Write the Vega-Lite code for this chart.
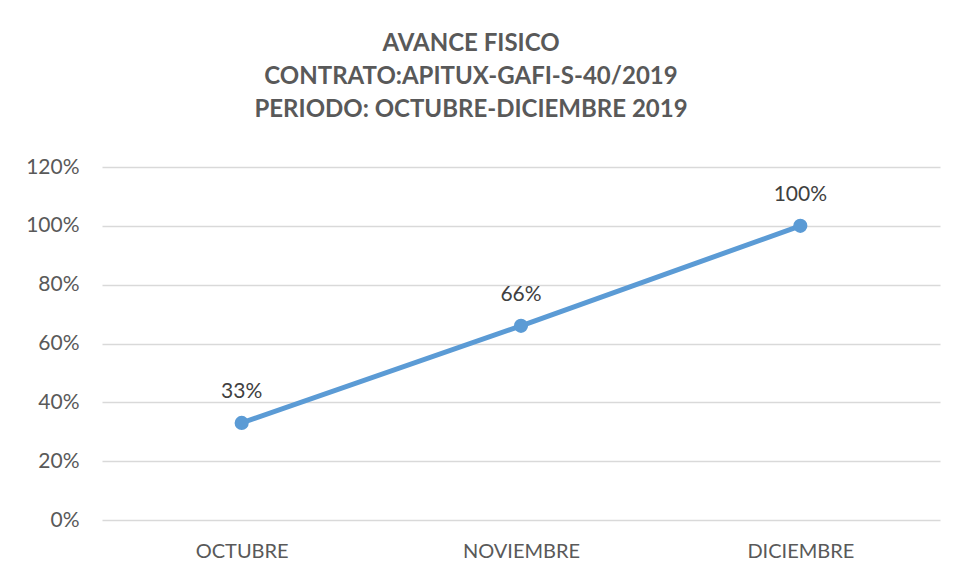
{
  "$schema": "https://vega.github.io/schema/vega-lite/v6.json",
  "autosize": "none",
  "width": 838,
  "height": 353,
  "padding": {"left": 102, "top": 167, "right": 18, "bottom": 61},
  "background": "white",
  "config": {
    "font": "Lato",
    "view": {"stroke": null},
    "axis": {"labelFont": "Lato", "labelColor": "#595959", "domain": false, "ticks": false}
  },
  "title": {
    "text": ["AVANCE FISICO", "CONTRATO:APITUX-GAFI-S-40/2019", "PERIODO: OCTUBRE-DICIEMBRE 2019"],
    "font": "Lato",
    "fontSize": 24,
    "fontWeight": "bold",
    "color": "#595959",
    "anchor": "middle",
    "frame": "group",
    "dx": -50,
    "lineHeight": 33,
    "offset": 34
  },
  "data": {
    "values": [
      {"mes": "OCTUBRE", "avance": 0.33},
      {"mes": "NOVIEMBRE", "avance": 0.66},
      {"mes": "DICIEMBRE", "avance": 1.0}
    ]
  },
  "encoding": {
    "x": {
      "field": "mes", "type": "nominal", "sort": null, "title": null,
      "scale": {"paddingInner": 0, "paddingOuter": 0},
      "axis": {"labelAngle": 0, "labelFontSize": 20, "labelPadding": 21, "grid": false}
    },
    "y": {
      "field": "avance", "type": "quantitative", "title": null,
      "scale": {"domain": [0, 1.2], "nice": false},
      "axis": {"format": ".0%", "values": [0, 0.2, 0.4, 0.6, 0.8, 1.0, 1.2], "labelFontSize": 21, "labelPadding": 23, "gridColor": "#D9D9D9", "gridWidth": 1.3}
    }
  },
  "layer": [
    {"mark": {"type": "line", "color": "#5B9BD5", "strokeWidth": 5, "strokeCap": "round"}},
    {"mark": {"type": "point", "filled": true, "color": "#5B9BD5", "size": 200, "opacity": 1}},
    {
      "mark": {"type": "text", "dy": -31, "fontSize": 21, "color": "#404040", "font": "Lato"},
      "encoding": {"text": {"field": "avance", "type": "quantitative", "format": ".0%"}}
    }
  ]
}
